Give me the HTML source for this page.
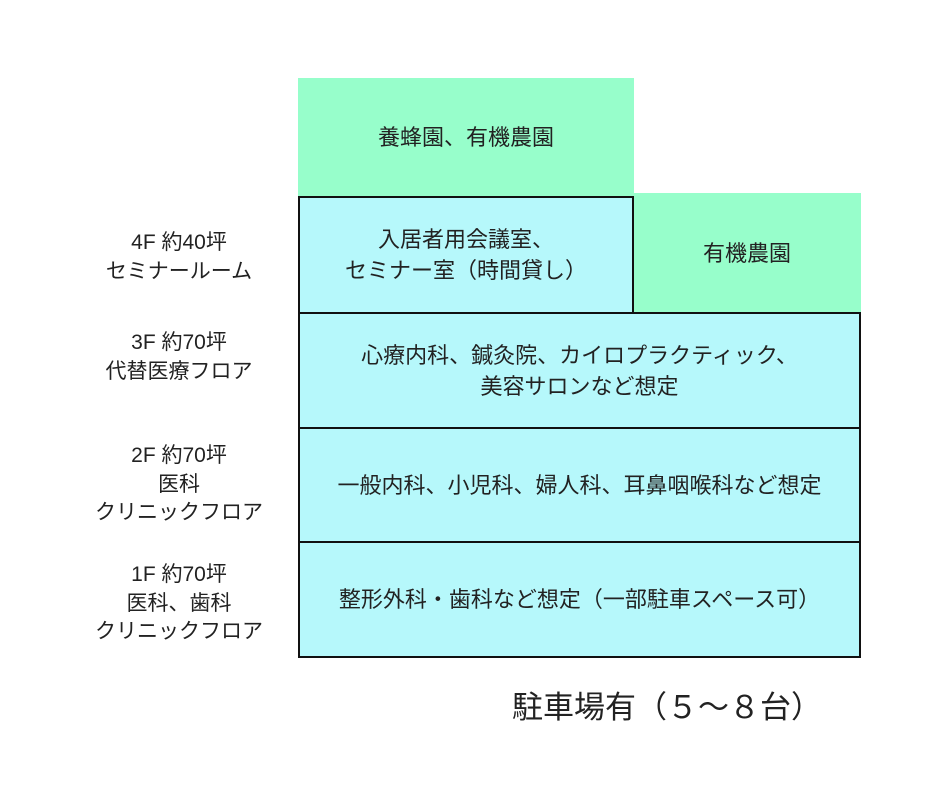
<!DOCTYPE html>
<html><head><meta charset="utf-8"><style>
body{margin:0;width:940px;height:788px;background:#fff;position:relative;font-family:"Liberation Sans","Noto Sans CJK JP",sans-serif;color:#222;overflow:hidden}
.b{position:absolute;display:flex;align-items:center;justify-content:center;text-align:center;font-size:22px;line-height:31px;box-sizing:border-box}
.g{background:#97fecb}
.c{background:#b6f8fb;border:2px solid #111}
.l{position:absolute;width:240px;text-align:center;font-size:21px;line-height:28.5px;left:59px}
</style></head><body>
<div class="b g" style="left:298px;top:78px;width:336px;height:118px">養蜂園、有機農園</div>
<div class="b g" style="left:633px;top:193px;width:228px;height:120px">有機農園</div>
<div class="b c" style="left:298px;top:196px;width:336px;height:118px">入居者用会議室、<br>セミナー室（時間貸し）</div>
<div class="b c" style="left:298px;top:312px;width:563px;height:117px">心療内科、鍼灸院、カイロプラクティック、<br>美容サロンなど想定</div>
<div class="b c" style="left:298px;top:427px;width:563px;height:116px">一般内科、小児科、婦人科、耳鼻咽喉科など想定</div>
<div class="b c" style="left:298px;top:541px;width:563px;height:117px">整形外科・歯科など想定（一部駐車スペース可）</div>
<div class="l" style="top:229px">4F 約40坪<br>セミナールーム</div>
<div class="l" style="top:329px">3F 約70坪<br>代替医療フロア</div>
<div class="l" style="top:442px">2F 約70坪<br>医科<br>クリニックフロア</div>
<div class="l" style="top:561px">1F 約70坪<br>医科、歯科<br>クリニックフロア</div>
<div style="position:absolute;left:512px;top:688px;font-size:31px;line-height:40px">駐車場有（５～８台）</div>
</body></html>
